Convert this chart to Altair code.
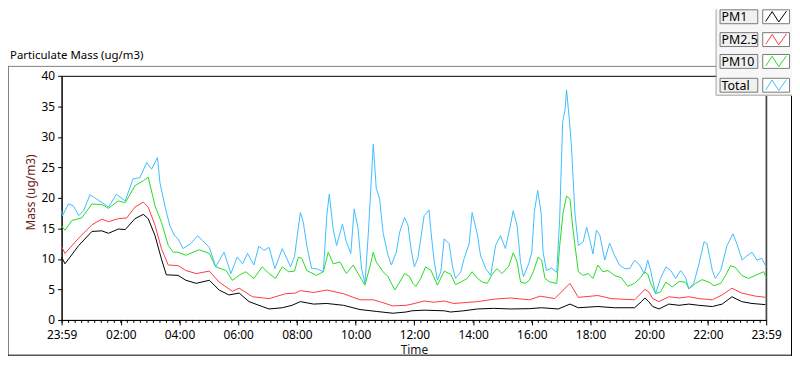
import altair as alt
import pandas as pd

title_text = "Particulate Mass (ug/m3)"
y_title = "Mass (ug/m3)"
x_title = "Time"
series_names = ["PM1", "PM2.5", "PM10", "Total"]
series_colors = ["#000000", "#ff3c3c", "#22dd22", "#40bcff"]

# (minutes after 23:59, ug/m3)
pm1 = [(0,10.3),(7,9.2),(35,12.2),(62,14.5),(82,14.6),(96,14.2),(116,14.9),(130,14.8),(150,16.6),(167,17.3),
       (177,16.6),(191,13.8),(204,10.0),(214,7.4),(238,7.3),(254,6.5),(275,6.0),(302,6.5),(322,4.9),(342,4.1),
       (363,4.4),(383,3.0),(410,2.2),(424,1.8),(451,2.0),(471,2.4),(488,3.0),(515,2.6),(542,2.7),(576,2.4),
       (610,1.7),(643,1.4),(677,1.1),(704,1.3),(716,1.5),(741,1.6),(782,1.5),(795,1.3),(822,1.5),(850,1.8),
       (883,1.9),(917,1.8),(956,1.85),(981,2.0),(1015,1.8),(1039,2.6),(1056,2.0),(1096,2.2),(1130,2.0),(1171,2.0),
       (1185,3.0),(1192,3.6),(1200,3.0),(1208,2.2),(1221,1.8),(1241,2.6),(1262,2.4),(1282,2.6),(1302,2.4),(1330,2.2),
       (1350,2.6),(1370,3.8),(1390,3.0),(1411,2.7),(1440,2.5)]
pm25 = [(0,12.0),(7,10.9),(35,13.4),(62,15.6),(82,16.5),(96,16.1),(116,16.6),(133,16.7),(150,18.5),(167,19.3),
        (177,18.5),(191,15.5),(204,11.7),(218,9.0),(238,8.9),(254,8.1),(275,7.6),(302,8.0),(322,6.2),(349,4.7),
        (363,5.2),(390,3.8),(424,3.5),(458,4.3),(478,4.4),(488,4.8),(515,4.5),(542,4.9),(576,4.3),(610,3.3),
        (637,3.3),(650,3.0),(677,2.3),(704,2.4),(716,2.6),(741,3.1),(761,2.9),(782,3.1),(802,2.7),(850,3.0),
        (883,3.4),(917,3.6),(956,3.3),(978,3.9),(1008,3.5),(1039,6.0),(1056,3.7),(1096,4.0),(1123,3.5),(1171,3.3),
        (1192,5.0),(1200,4.6),(1208,3.5),(1221,3.0),(1241,3.8),(1262,3.6),(1282,3.8),(1302,3.5),(1330,3.3),(1350,4.1),
        (1370,5.2),(1390,4.4),(1418,3.9),(1440,3.7)]
pm10 = [(0,15.4),(7,14.7),(21,16.3),(41,16.7),(62,19.0),(82,18.9),(96,18.3),(116,19.5),(130,19.2),(150,22.0),
        (167,22.8),(177,23.4),(191,18.7),(204,16.0),(218,12.2),(228,11.1),(238,11.1),(254,10.6),(281,11.5),(302,10.9),
        (315,8.7),(336,8.1),(349,6.5),(363,7.3),(376,7.9),(393,6.8),(410,8.7),(424,7.6),(437,6.8),(451,8.7),
        (464,7.9),(476,8.0),(484,10.3),(491,10.1),(501,8.1),(521,7.3),(535,7.9),(545,11.1),(555,9.2),(569,9.5),
        (582,7.6),(596,9.0),(606,7.6),(620,5.7),(630,8.7),(637,11.1),(643,9.5),(657,7.9),(667,7.1),(681,4.9),
        (691,6.2),(701,7.6),(711,7.1),(718,6.0),(724,5.5),(734,6.8),(744,8.7),(755,8.1),(768,5.7),(782,8.0),
        (795,7.5),(805,5.8),(816,6.2),(829,6.8),(839,7.9),(850,6.8),(860,6.2),(870,6.0),(880,7.5),(890,8.4),
        (900,7.6),(914,8.8),(923,11.0),(931,9.5),(938,6.2),(948,6.0),(956,6.5),(964,7.9),(974,10.3),(981,9.8),
        (988,6.8),(998,6.2),(1012,6.0),(1018,12.2),(1025,17.6),(1032,20.3),(1039,19.8),(1045,14.9),(1056,7.9),(1066,7.3),
        (1076,7.6),(1086,6.8),(1096,9.0),(1106,7.9),(1117,8.1),(1130,7.3),(1144,6.9),(1157,5.5),(1171,6.0),(1184,7.0),
        (1191,7.9),(1198,7.5),(1204,6.0),(1214,4.3),(1224,4.6),(1235,6.2),(1248,5.4),(1262,6.3),(1275,6.2),(1282,5.1),
        (1296,6.0),(1309,6.6),(1323,6.2),(1333,5.6),(1347,6.0),(1357,7.3),(1367,8.9),(1377,8.6),(1390,7.3),(1404,6.8),
        (1418,7.3),(1435,7.9),(1440,6.9)]
total = [(0,17.9),(2,17.1),(14,19.0),(24,18.7),(35,17.1),(45,17.9),(58,20.5),(72,19.8),(96,18.5),(112,20.6),
         (130,19.5),(146,23.1),(160,23.3),(174,25.8),(184,24.7),(196,26.6),(201,22.5),(211,18.7),(221,15.5),(231,13.8),
         (238,13.3),(248,11.7),(264,12.5),(278,13.8),(288,13.0),(302,11.9),(315,8.7),(332,11.1),(346,7.6),(359,10.3),
         (370,9.2),(380,10.9),(393,9.0),(403,12.1),(414,11.4),(424,11.9),(436,8.4),(451,11.7),(468,8.7),(476,10.4),
         (488,17.6),(494,16.0),(501,12.2),(511,8.4),(521,8.4),(535,7.9),(542,17.1),(547,20.6),(555,14.9),(562,12.2),
         (574,15.7),(582,12.8),(591,10.9),(598,18.2),(606,14.9),(613,8.4),(620,6.0),(627,14.3),(637,28.8),(643,21.6),
         (650,19.8),(657,14.3),(667,10.6),(674,9.0),(684,11.1),(691,14.4),(701,16.8),(708,15.5),(714,11.7),(721,8.7),
         (728,10.1),(734,13.3),(741,17.1),(751,18.0),(755,14.4),(761,9.9),(768,6.5),(775,7.9),(782,13.3),(792,12.5),
         (799,8.7),(805,6.8),(816,7.9),(822,9.9),(833,12.5),(839,17.6),(850,13.9),(856,10.6),(867,8.4),(877,7.3),
         (887,12.2),(897,13.8),(907,11.7),(917,15.4),(923,17.9),(931,15.4),(938,9.4),(944,7.1),(955,9.3),(961,11.1),
         (966,17.6),(973,21.2),(980,17.6),(984,11.1),(991,8.1),(1001,8.5),(1012,7.8),(1018,16.7),(1024,32.4),(1029,34.5),
         (1032,37.7),(1037,33.4),(1042,28.5),(1049,17.6),(1056,12.2),(1066,12.8),(1073,15.2),(1079,13.3),(1086,10.8),(1093,14.7),
         (1100,13.9),(1110,9.8),(1120,12.6),(1130,10.6),(1140,9.0),(1151,8.4),(1161,8.4),(1171,9.8),(1181,9.0),(1191,7.6),
         (1198,9.8),(1204,8.0),(1214,4.3),(1224,6.8),(1235,8.7),(1245,8.1),(1255,6.8),(1265,8.1),(1275,7.0),(1282,5.1),
         (1292,6.0),(1302,9.0),(1313,12.8),(1319,12.5),(1330,8.1),(1336,6.8),(1347,8.1),(1360,12.2),(1372,14.1),(1380,12.5),
         (1391,9.8),(1397,10.3),(1411,11.1),(1421,9.8),(1431,10.1),(1440,8.7)]

tick_vals = [0, 121, 241, 361, 481, 601, 721, 841, 961, 1081, 1201, 1321, 1440]
tick_labels = ["23:59", "02:00", "04:00", "06:00", "08:00", "10:00", "12:00",
               "14:00", "16:00", "18:00", "20:00", "22:00", "23:59"]
minor_ticks = [round(1 + k * 120 / 9, 2) for k in range(108)]
y_ticks = [0, 5, 10, 15, 20, 25, 30, 35, 40]

FONT = "Noto Sans"
W, H = 710, 246

rows = []
for name, data in zip(series_names, [pm1, pm25, pm10, total]):
    for t, v in data:
        rows.append({"series": name, "minute": t, "value": v})
df = pd.DataFrame(rows)

label_expr = "''"
for v, l in reversed(list(zip(tick_vals, tick_labels))):
    label_expr = f"datum.value == {v} ? '{l}' : ({label_expr})"

xscale = alt.Scale(domain=[0, 1440], nice=False, zero=False)
xaxis = alt.Axis(values=tick_vals, labelExpr=label_expr, tickSize=5, labelPadding=5,
                 grid=False, labelFlush=False, labelOverlap=False, title=x_title,
                 titleX=W / 2, titleY=30, titleBaseline="middle", titleAlign="center",
                 titleColor="#1a1a1a")

lines = alt.Chart(df).mark_line(strokeWidth=1, interpolate="linear").encode(
    x=alt.X("minute:Q", scale=xscale, axis=xaxis),
    y=alt.Y("value:Q", scale=alt.Scale(domain=[0, 40], nice=False),
            axis=alt.Axis(values=y_ticks, tickSize=4, labelPadding=3, grid=False, labelFlush=False,
                          labelOverlap=False, title=y_title, titleAngle=-90, titleX=-31, titleY=117,
                          titleBaseline="middle", titleAlign="center", titleColor="#6e1a1a")),
    color=alt.Color("series:N", scale=alt.Scale(domain=series_names, range=series_colors), legend=None),
)

minor = alt.Chart(pd.DataFrame({"minute": minor_ticks})).mark_rule(color="#000", strokeWidth=1).encode(
    x=alt.X("minute:Q", scale=xscale, axis=xaxis),
    y=alt.value(H), y2=alt.value(H + 3),
)

one = pd.DataFrame({"k": [0]})
layers = [lines, minor]

# right edge of plot area (grey)
layers.append(alt.Chart(one).mark_rule(color="#9a9a9a").encode(
    x=alt.value(W - 0.5), y=alt.value(0), y2=alt.value(H)))

# outer frame
layers.append(alt.Chart(one).mark_rule(color="#808080").encode(
    x=alt.value(-54), x2=alt.value(660), y=alt.value(-9.5)))
layers.append(alt.Chart(one).mark_rule(color="#808080").encode(
    x=alt.value(-53.5), y=alt.value(-10), y2=alt.value(282)))
layers.append(alt.Chart(one).mark_rule(color="#000").encode(
    x=alt.value(-54), x2=alt.value(736), y=alt.value(281.5)))
layers.append(alt.Chart(one).mark_rule(color="#000").encode(
    x=alt.value(735.5), y=alt.value(20), y2=alt.value(282)))

# chart title
layers.append(alt.Chart(pd.DataFrame({"t": [title_text]})).mark_text(
    align="left", baseline="middle", fontSize=11.5, font=FONT, color="#000").encode(
    x=alt.value(-52), y=alt.value(-20), text="t:N"))

# legend panel
layers.append(alt.Chart(one).mark_rect(fill="#f7f7f7").encode(
    x=alt.value(660), x2=alt.value(736), y=alt.value(-67), y2=alt.value(20)))
layers.append(alt.Chart(one).mark_rule(color="#a0a0a0").encode(
    x=alt.value(659.5), y=alt.value(-67), y2=alt.value(20)))
layers.append(alt.Chart(one).mark_rule(color="#a0a0a0").encode(
    x=alt.value(660), x2=alt.value(736), y=alt.value(19.5)))

row_tops = [-67, -44, -22, 2]
zig = "M-1,0.45L-0.38,-0.5L0.25,0.5L1,-0.55"
for i, (name, col) in enumerate(zip(series_names, series_colors)):
    top = row_tops[i]
    layers.append(alt.Chart(one).mark_rect(fill="#f0f0f0", stroke="#7a7a7a", strokeWidth=1).encode(
        x=alt.value(663.5), x2=alt.value(701.5), y=alt.value(top + 0.5), y2=alt.value(top + 14.5)))
    layers.append(alt.Chart(pd.DataFrame({"n": [name]})).mark_text(
        align="left", baseline="middle", fontSize=12.5, font=FONT, color="#000").encode(
        x=alt.value(665), y=alt.value(top + 8), text="n:N"))
    layers.append(alt.Chart(one).mark_rect(fill="#ffffff", stroke="#7a7a7a", strokeWidth=1).encode(
        x=alt.value(706.5), x2=alt.value(733.5), y=alt.value(top + 0.5), y2=alt.value(top + 14.5)))
    layers.append(alt.Chart(one).mark_point(shape=zig, size=440, filled=False, color=col,
                                            strokeWidth=1, opacity=1).encode(
        x=alt.value(720), y=alt.value(top + 7.5)))

chart = alt.layer(*layers).properties(
    width=W, height=H,
    padding={"left": 54, "top": 67, "right": 26, "bottom": 36},
    autosize=alt.AutoSizeParams(type="none"),
).configure_view(stroke="#000", strokeWidth=1).configure_axis(
    labelFont=FONT, labelFontSize=12, labelColor="#000", titleFont=FONT, titleFontSize=12,
    titleFontWeight="normal", domainColor="#000", tickColor="#000",
)

chart.save("out.html", embed_options={"renderer": "svg", "actions": False})
